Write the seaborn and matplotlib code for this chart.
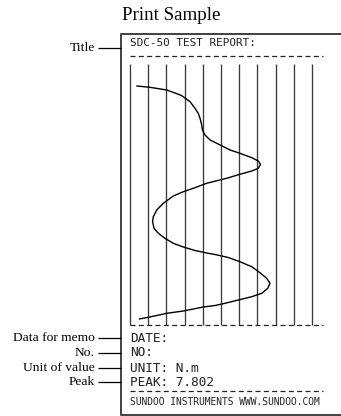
"""Print sample of the SDC-50 test report: torque trace on a strip chart."""

import matplotlib
matplotlib.use("Agg")
import matplotlib.pyplot as plt
import seaborn as sns
import pandas as pd

# trace: value in chart divisions, time in % of strip length
TRACE_VALUE = [0.37, 1.10, 2.02, 2.83, 3.30, 3.57, 3.75, 3.85, 3.94, 3.98,
               4.12, 4.40, 4.95, 5.50, 6.04, 6.69, 7.05, 7.17, 7.05, 6.69,
               6.04, 5.31, 4.21, 3.48, 2.93, 2.38, 1.83, 1.47, 1.28, 1.24,
               1.32, 1.56, 1.92, 2.38, 2.93, 3.57, 4.21, 4.67, 5.40, 6.04,
               6.69, 7.14, 7.51, 7.69, 7.57, 7.24, 6.69, 5.95, 5.22, 4.67,
               4.03, 2.93, 2.02, 1.01, 0.51]
TRACE_TIME = [8.43, 8.93, 9.96, 12.07, 14.44, 16.97, 18.89, 20.80, 23.37, 25.29,
              27.20, 29.12, 31.03, 32.95, 34.21, 35.90, 37.16, 38.43, 39.96, 41.00,
              42.26, 43.79, 45.71, 47.62, 48.93, 50.57, 53.37, 55.94, 58.51, 60.42,
              62.95, 64.87, 66.78, 68.70, 70.11, 71.46, 72.41, 72.99, 74.14, 75.75,
              77.66, 79.96, 82.11, 84.02, 85.94, 87.85, 89.16, 90.42, 91.69, 92.53,
              93.10, 94.64, 95.52, 97.05, 97.70]
GRID_DIVS = list(range(11))

REPORT_TITLE = "SDC-50 TEST REPORT:"
REPORT_FIELDS = ["DATE:", "NO:", "UNIT: N.m", "PEAK: 7.802"]
FOOTER = "SUNDOO INSTRUMENTS WWW.SUNDOO.COM"
CALLOUTS = ["Title", "Data for memo", "No.", "Unit of value", "Peak"]

W, H = 341, 416
MONO = "DejaVu Sans Mono"
SERIF = "Liberation Serif"
INK = "#222222"

sns.set_style("white")
plt.rcParams["lines.scale_dashes"] = False

fig = plt.figure(figsize=(W / 100, H / 100), dpi=100)

# whole-page axes in pixel units for the paper frame and captions
bg = fig.add_axes([0, 0, 1, 1])
bg.set_xlim(0, W)
bg.set_ylim(H, 0)
bg.axis("off")

bg.text(171, 16, "Print Sample", family=SERIF, fontsize=13.7,
        ha="center", va="center", color="black")

# paper outline, open on the right (runs off the picture)
bg.plot([W + 5, 121, 121, W + 5], [34, 34, 415, 415], color="#333333", lw=1.3)

# report text
bg.text(130, 43, REPORT_TITLE, family=MONO, fontsize=7.9, va="center", color=INK)
bg.hlines([56, 391], 130, 323, color=INK, lw=0.9, linestyles=(0, (3.6, 2.4)))
for y, field in zip([338, 353, 368, 382], REPORT_FIELDS):
    bg.text(130, y, field, family=MONO, fontsize=9.2, va="center", color=INK)
bg.text(130, 402, FOOTER, family=MONO, fontsize=6.9, va="center", color=INK)

# callouts on the left
callout_y = [48, 338, 353, 368, 382]
for y, label in zip(callout_y, CALLOUTS):
    bg.text(95, y, label, family=SERIF, fontsize=9.7, ha="right", va="center",
            color="black")
bg.hlines(callout_y, 98, 121, color="black", lw=0.9)

# strip chart
ax = fig.add_axes([130 / W, (H - 325) / H, 193 / W, 261 / H])
ax.vlines(GRID_DIVS, 0, 100, color="#3a3a3a", lw=0.95, clip_on=False)
ax.axhline(100, color=INK, lw=0.9, linestyle=(0, (3.6, 2.4)), clip_on=False)

trace = pd.DataFrame({"value": TRACE_VALUE, "time": TRACE_TIME})
sns.lineplot(data=trace, x="value", y="time", sort=False, estimator=None,
             color="black", lw=1.0, ax=ax)
ax.set_xlim(0, 193 / 18.2)
ax.set_ylim(100, 0)
ax.axis("off")

fig.savefig("out.png", dpi=100)
plt.close(fig)
